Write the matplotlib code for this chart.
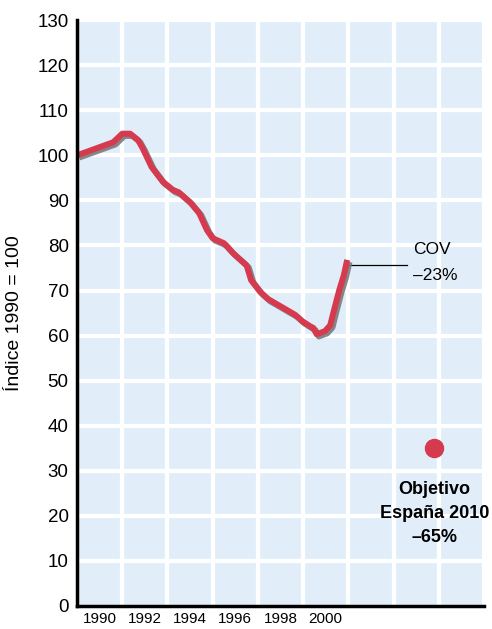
import numpy as np
import matplotlib.pyplot as plt
import matplotlib.patheffects as pe

plt.rcParams['font.family'] = ['Liberation Sans', 'DejaVu Sans']

# emisiones COV, indice 1990 = 100
years = [1990.0, 1991.6, 1992.0, 1992.35, 1992.7, 1992.9, 1993.3, 1993.8,
         1994.25, 1994.5, 1995.0, 1995.4, 1995.75, 1996.0, 1996.5, 1996.9,
         1997.5, 1997.7, 1998.1, 1998.45, 1998.76, 1999.07, 1999.65, 1999.96,
         2000.3, 2000.45, 2000.6, 2000.97, 2001.2, 2001.4, 2001.6, 2001.8,
         2001.95]
index = [100.0, 102.9, 104.8, 104.8, 103.4, 101.6, 97.4, 94.1,
         92.3, 91.8, 89.6, 87.2, 83.4, 81.6, 80.5, 78.3,
         75.6, 72.3, 69.7, 68.1, 67.2, 66.3, 64.6, 63.2,
         62.1, 61.7, 60.3, 61.0, 62.3, 66.3, 70.1, 73.4,
         76.8]

target_year = 2005.8
target_value = 35

tick_pos = [1991, 1993, 1995, 1997, 1999, 2001]
tick_labels = ['1990', '1992', '1994', '1996', '1998', '2000']

fig = plt.figure(figsize=(4.92, 6.29), dpi=100)
ax = fig.add_axes([0.1565, 0.0366, 0.8272, 0.9314])
ax.set_facecolor('#e1eefa')

ax.set_xlim(1990, 2008)
ax.set_ylim(0, 130)

for gx in range(1992, 2009, 2):
    ax.axvline(gx, color='white', lw=3, zorder=1)
for gy in range(10, 131, 10):
    ax.axhline(gy, color='white', lw=3, zorder=1)

ax.plot(years, index, color='#d63a4e', lw=4.3, solid_capstyle='butt',
        solid_joinstyle='round', zorder=3,
        path_effects=[pe.SimpleLineShadow(offset=(1.6, -1.6), shadow_color='#7a7a7a', alpha=0.9),
                      pe.Normal()])

ax.plot([target_year], [target_value], 'o', color='#d63a4e', ms=13, zorder=3)

ax.plot([2002.05, 2004.6], [75.6, 75.6], color='black', lw=0.9, zorder=2)
ax.text(2004.85, 79, 'COV', fontsize=12.5, va='center', ha='left')
ax.text(2004.85, 73.4, '–23%', fontsize=12.5, va='center', ha='left')

ax.text(target_year, 25.8, 'Objetivo', fontsize=13, fontweight='bold', ha='center', va='center')
ax.text(target_year, 20.6, 'España 2010', fontsize=13, fontweight='bold', ha='center', va='center')
ax.text(target_year, 15.3, '–65%', fontsize=13, fontweight='bold', ha='center', va='center')

ax.set_yticks(np.arange(0, 131, 10))
ax.set_xticks(tick_pos)
ax.set_xticklabels(tick_labels)
ax.tick_params(axis='y', length=0, labelsize=13.5, pad=6)
ax.tick_params(axis='x', length=0, labelsize=11, pad=4)
ax.set_ylabel('Índice 1990 = 100', fontsize=14, labelpad=10)

for side in ['top', 'right']:
    ax.spines[side].set_visible(False)
for side in ['left', 'bottom']:
    ax.spines[side].set_linewidth(2.5)
    ax.spines[side].set_color('black')
    ax.spines[side].set_zorder(4)

fig.savefig('out.png', dpi=100)
